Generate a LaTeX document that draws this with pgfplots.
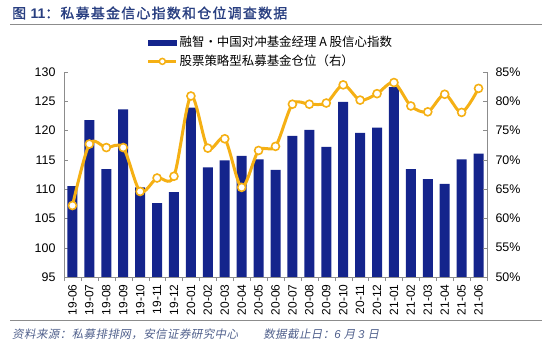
\documentclass[border=0pt]{standalone}
\usepackage{pgfplots}
\pgfplotsset{compat=1.18}
\usepackage{fontspec}
\setmainfont{Liberation Sans}
\newfontfamily\cjk{Noto Sans CJK SC}
\newfontfamily\cjki[FakeSlant=0.2, LetterSpace=4]{Noto Sans CJK SC}
\newfontfamily\cjkt[FakeBold=1.2, LetterSpace=9]{Noto Sans CJK SC}
\definecolor{barblue}{RGB}{20,36,140}
\definecolor{lineorange}{RGB}{245,176,20}
\definecolor{titleblue}{RGB}{40,62,128}
\definecolor{srcblue}{RGB}{80,96,140}
\definecolor{axgray}{RGB}{140,140,140}
\begin{document}
\begin{tikzpicture}
\path[use as bounding box] (0,0) rectangle (550bp,344bp);
\node[anchor=west, text=titleblue, inner sep=0pt, font=\fontsize{14}{14}\selectfont] at (12bp,331bp) {\cjkt 图 {\bfseries\rmfamily 11}：私募基金信心指数和仓位调查数据};
\draw[axgray, line width=1bp] (10bp,319bp) -- (542bp,319bp);
\draw[axgray, line width=1bp] (10bp,23bp) -- (542bp,23bp);
\node[anchor=west, text=srcblue, inner sep=0pt, font=\fontsize{11.5}{11.5}\selectfont] at (12bp,10bp) {\cjki 资料来源：私募排排网，安信证券研究中心\hspace{2.2em}数据截止日：{\itshape\rmfamily 6} 月 {\itshape\rmfamily 3} 日};
\begin{axis}[
  at={(64bp,67bp)}, anchor=south west, scale only axis,
  width=423bp, height=205bp,
  xmin=-0.5, xmax=24.5, ymin=95, ymax=130,
  axis x line*=bottom, axis y line*=left,
  axis line style={axgray},
  ytick={95,100,...,130},
  xtick={0,...,24},
  xticklabels={19-06,19-07,19-08,19-09,19-10,19-11,19-12,20-01,20-02,20-03,20-04,20-05,20-06,20-07,20-08,20-09,20-10,20-11,20-12,21-01,21-02,21-03,21-04,21-05,21-06},
  xticklabel style={rotate=90, anchor=east, font=\fontsize{12}{12}\selectfont},
  yticklabel style={font=\fontsize{12.5}{12.5}\selectfont, xshift=-5bp},
  /pgf/number format/assume math mode=true,
  major x tick style={draw=none},
  minor xtick={-0.5,0.5,...,24.5},
  minor x tick style={axgray},
  minor tick length=4bp,
  major tick length=4bp,
  y tick style={axgray},
  tick align=inside,
  ybar, bar width=10bp,
]
\addplot[fill=barblue, draw=none] coordinates {
(0,110.5) (1,121.8) (2,113.4) (3,123.6) (4,110.3) (5,107.6) (6,109.5) (7,123.9) (8,113.7) (9,114.9) (10,115.7) (11,115.1) (12,113.3) (13,119.1) (14,120.1) (15,117.2) (16,124.9) (17,119.6) (18,120.5) (19,127.4) (20,113.4) (21,111.7) (22,110.9) (23,115.1) (24,116.05)
};
\end{axis}
\begin{axis}[
  at={(64bp,67bp)}, anchor=south west, scale only axis,
  width=423bp, height=205bp,
  xmin=-0.5, xmax=24.5, ymin=50, ymax=85,
  axis y line*=right, axis x line=none,
  axis line style={axgray},
  ytick={50,55,...,85},
  yticklabel={\pgfmathprintnumber{\tick}\%},
  yticklabel style={font=\fontsize{12.5}{12.5}\selectfont, xshift=5bp},
  /pgf/number format/assume math mode=true,
  y tick style={axgray},
  major tick length=4bp,
  tick align=inside,
  legend style={at={(0.196,1.185)}, anchor=north west, draw=none, fill=none,
    font=\fontsize{12.5}{12.5}\selectfont\cjk, row sep=3bp, inner sep=0pt,
    cells={anchor=west}},
  legend cell align=left,
]
\addlegendimage{legend image code/.code={\fill[barblue] (0bp,-2.5bp) rectangle (28bp,2.5bp);}}
\addlegendentry{融智·中国对冲基金经理 A 股信心指数}
\addplot[smooth, lineorange, line width=3bp, mark=*, mark size=4bp,
  mark options={fill=white, draw=lineorange, line width=1.6bp},
  legend image code/.code={\draw[lineorange, line width=2.5bp] (0bp,0bp) -- (28bp,0bp); \draw[lineorange, fill=white, line width=1.5bp] (14bp,0bp) circle (3bp);}] coordinates {
(0,62.2) (1,72.7) (2,72.1) (3,72.1) (4,64.6) (5,66.9) (6,67.2) (7,80.9) (8,72.0) (9,73.6) (10,65.3) (11,71.6) (12,72.3) (13,79.5) (14,79.5) (15,79.7) (16,82.8) (17,80.2) (18,81.3) (19,83.2) (20,79.2) (21,78.2) (22,81.2) (23,78.1) (24,82.2)
};
\addlegendentry{股票策略型私募基金仓位（右）}
\end{axis}
\end{tikzpicture}
\end{document}
